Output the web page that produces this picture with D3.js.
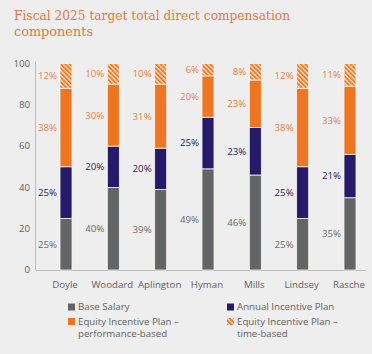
<!DOCTYPE html>
<html>
<head>
<meta charset="utf-8">
<script src="https://cdn.jsdelivr.net/npm/d3@7"></script>
<style>
  body { margin: 0; background: #eeeeee; }
  svg text { font-family: "Open Sans", "Noto Sans", sans-serif; }
</style>
</head>
<body>
<div id="chart"></div>
<script>
// data
const people = ["Doyle", "Woodard", "Aplington", "Hyman", "Mills", "Lindsey", "Rasche"];
const baseSalary = [25, 40, 39, 49, 46, 25, 35];
const annualPlan = [25, 20, 20, 25, 23, 25, 21];
const equityPerf = [38, 30, 31, 20, 23, 38, 33];
const equityTime = [12, 10, 10, 6, 8, 12, 11];
const yTicks = [0, 20, 40, 60, 80, 100];

const width = 372, height = 354;

const svg = d3.select("#chart").append("svg")
  .attr("width", width)
  .attr("height", height);

svg.append("rect").attr("width", width).attr("height", height).attr("fill", "#eeeeee");

// hatch for the time-based equity
const defs = svg.append("defs");
const pat = defs.append("pattern")
  .attr("id", "hatch")
  .attr("patternUnits", "userSpaceOnUse")
  .attr("width", 3.2).attr("height", 3.2)
  .attr("patternTransform", "rotate(-45)");
pat.append("rect").attr("width", 3.2).attr("height", 3.2).attr("fill", "#fbe3cc");
pat.append("rect").attr("width", 1.9).attr("height", 3.2).attr("fill", "#ee7a28");

// title, one text per line
const titleLines = [
  { t: "Fiscal 2025 target total direct compensation", y: 20, w: 276 },
  { t: "components", y: 35.5, w: 79 }
];
svg.append("g").selectAll("text")
  .data(titleLines)
  .enter().append("text")
  .attr("x", 14).attr("y", d => d.y)
  .attr("fill", "#e07b3c")
  .attr("textLength", d => d.w).attr("lengthAdjust", "spacingAndGlyphs")
  .style("font-family", "'DejaVu Serif', 'Liberation Serif', serif")
  .style("font-size", "13.3px")
  .text(d => d.t);

const y = d3.scaleLinear().domain([0, 100]).range([270, 63.5]);
const x = d3.scalePoint().domain(people).range([66, 350]);
const barW = 12;

// build stacked table
const table = people.map((p, i) => ({
  name: p,
  base: baseSalary[i],
  aip: annualPlan[i],
  perf: equityPerf[i],
  time: equityTime[i]
}));
const keys = ["base", "aip", "perf", "time"];
const stack = d3.stack().keys(keys)(table);

const fills = { base: "#636466", aip: "#261a6b", perf: "#ee7623", time: "url(#hatch)" };
const labelColors = { base: "#6b6b6b", aip: "#2a2060", perf: "#e8833f", time: "#e8833f" };

// axes
svg.append("line")
  .attr("x1", 35.5).attr("x2", 35.5)
  .attr("y1", y(100) - 2).attr("y2", y(0))
  .attr("stroke", "#bdbdbd");
svg.append("line")
  .attr("x1", 35.5).attr("x2", 366)
  .attr("y1", y(0) + 0.5).attr("y2", y(0) + 0.5)
  .attr("stroke", "#bdbdbd");

svg.append("g").selectAll("text")
  .data(yTicks)
  .enter().append("text")
  .attr("x", 30)
  .attr("y", d => y(d))
  .attr("dy", "0.35em")
  .attr("text-anchor", "end")
  .attr("fill", "#626262")
  .style("font-size", "9.7px")
  .text(d => d);

svg.append("g").selectAll("text")
  .data(people)
  .enter().append("text")
  .attr("x", d => x(d) - 1)
  .attr("y", 287.5)
  .attr("text-anchor", "middle")
  .attr("fill", "#626262")
  .style("font-size", "9.7px")
  .text(d => d);

// bars
const layers = svg.append("g").selectAll("g")
  .data(stack)
  .enter().append("g");

layers.selectAll("rect")
  .data(d => d.map(s => ({ key: d.key, s: s })))
  .enter().append("rect")
  .attr("x", d => x(d.s.data.name) - barW / 2)
  .attr("width", barW)
  .attr("y", d => y(d.s[1]))
  .attr("height", d => y(d.s[0]) - y(d.s[1]))
  .attr("fill", d => fills[d.key])
  .attr("stroke", "#faf3ea")
  .attr("stroke-width", 0.8);

layers.selectAll("text")
  .data(d => d.map(s => ({ key: d.key, s: s })))
  .enter().append("text")
  .attr("x", d => x(d.s.data.name) - barW / 2 - 3)
  .attr("y", d => y((d.s[0] + d.s[1]) / 2))
  .attr("dy", "0.35em")
  .attr("text-anchor", "end")
  .attr("fill", d => labelColors[d.key])
  .style("font-size", "9.7px")
  .text(d => (d.s[1] - d.s[0]) + "%");

// legend
const legendPos = [
  { x: 68, y: 307 },
  { x: 227, y: 307 },
  { x: 68, y: 321.5 },
  { x: 227, y: 321.5 }
];
const legendLines = [
  ["Base Salary"],
  ["Annual Incentive Plan"],
  ["Equity Incentive Plan –", "performance-based"],
  ["Equity Incentive Plan –", "time-based"]
];
const leg = svg.append("g").selectAll("g")
  .data(keys)
  .enter().append("g")
  .attr("transform", (d, i) => `translate(${legendPos[i].x},${legendPos[i].y})`);

leg.append("rect")
  .attr("x", 0).attr("y", -3.5)
  .attr("width", 7).attr("height", 7)
  .attr("fill", d => fills[d]);

leg.each(function(d, i) {
  d3.select(this).selectAll("text")
    .data(legendLines[i])
    .enter().append("text")
    .attr("x", 10)
    .attr("y", (line, j) => j * 12)
    .attr("dy", "0.35em")
    .attr("fill", "#626262")
    .style("font-size", "9.7px")
    .text(line => line);
});
</script>
</body>
</html>
